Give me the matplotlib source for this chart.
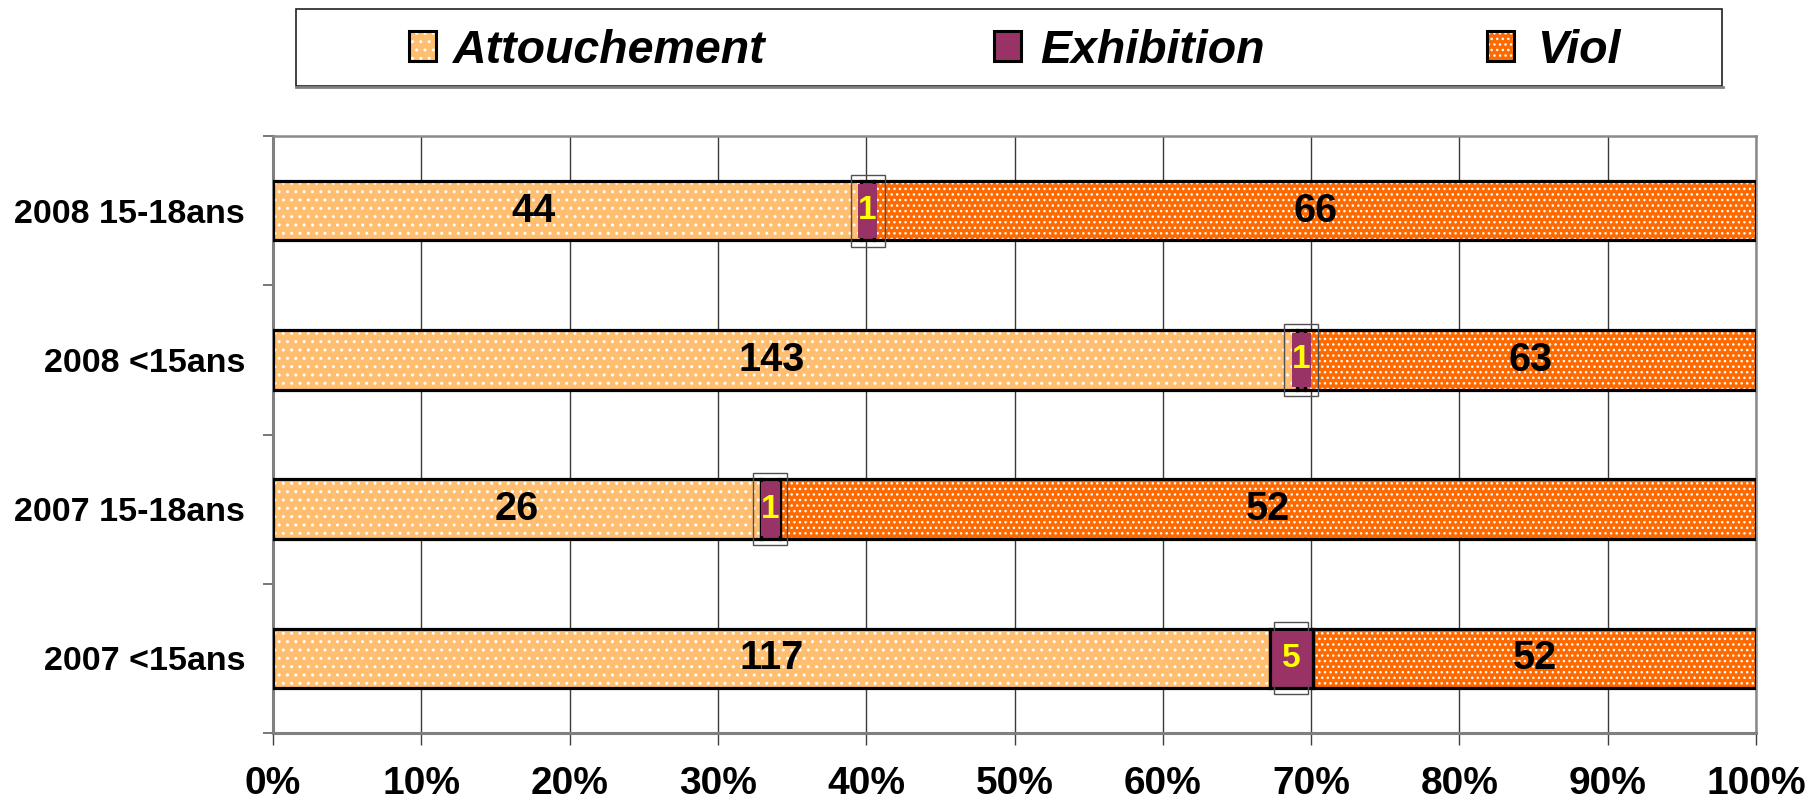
import matplotlib
matplotlib.use("Agg")
import matplotlib.pyplot as plt
from matplotlib.patches import Rectangle
from matplotlib.lines import Line2D
import numpy as np

plt.rcParams['font.family'] = ['Liberation Sans', 'DejaVu Sans']
plt.rcParams['hatch.linewidth'] = 1.0

categories = ["2008 15-18ans", "2008 <15ans", "2007 15-18ans", "2007 <15ans"]
series_names = ["Attouchement", "Exhibition", "Viol"]
attouchement = [44, 143, 26, 117]
exhibition = [1, 1, 1, 5]
viol = [66, 63, 52, 52]
xticks = [0, 10, 20, 30, 40, 50, 60, 70, 80, 90, 100]

colors = ["#FFBE70", "#993366", "#FF6A00"]
hatches = ["..", None, "..."]
label_colors = ["black", "#FFFF00", "black"]

W, H = 1818, 811
fig = plt.figure(figsize=(W / 100, H / 100), dpi=100)
L, R, T, B = 273, 1756, 136, 733
ax = fig.add_axes([L / W, 1 - B / H, (R - L) / W, (B - T) / H])

counts = np.array([attouchement, exhibition, viol], dtype=float)
totals = counts.sum(axis=0)
pct = counts / totals * 100
y = np.arange(len(categories))
bar_h = 0.40

left = np.zeros(len(categories))
for i, name in enumerate(series_names):
    if hatches[i]:
        ax.barh(y, pct[i], left=left, height=bar_h, color=colors[i],
                hatch=hatches[i], edgecolor="white", linewidth=0, zorder=2)
        ax.barh(y, pct[i], left=left, height=bar_h, fill=False,
                edgecolor="black", linewidth=2.3, zorder=3)
    else:
        ax.barh(y, pct[i], left=left, height=bar_h, color=colors[i],
                edgecolor="black", linewidth=2.3, zorder=3)
    left = left + pct[i]

# data labels
px_x = 100.0 / (R - L)          # data units per pixel in x
px_y = 4.0 / (B - T)            # data units per pixel in y
label_shift_px = {(0, 0): -33, (0, 1): -14}   # (series, row): horizontal nudge in pixels
left = np.zeros(len(categories))
for i, name in enumerate(series_names):
    centers = left + pct[i] / 2
    for j in range(len(categories)):
        cx = centers[j] + label_shift_px.get((i, j), 0) * px_x
        if i == 1:
            ow, oh = 34 * px_x, 72 * px_y
            ax.add_patch(Rectangle((cx - ow / 2, y[j] - oh / 2), ow, oh,
                                   fill=False, edgecolor="#505050", linewidth=1.0, zorder=5))
            iw = max(pct[i][j] - 8 * px_x, 19 * px_x)
            ih = 54 * px_y
            ax.add_patch(Rectangle((cx - iw / 2, y[j] - ih / 2), iw, ih,
                                   facecolor=colors[1], edgecolor="none", zorder=5))
            ax.text(cx, y[j], str(int(counts[i][j])), ha="center", va="center",
                    fontsize=24, fontweight="bold", color=label_colors[i], zorder=6)
        else:
            ax.text(cx, y[j], str(int(counts[i][j])), ha="center", va="center",
                    fontsize=28.5, fontweight="bold", color=label_colors[i], zorder=6)
    left = left + pct[i]

ax.set_xlim(0, 100)
ax.set_ylim(3.5, -0.5)
ax.set_xticks(xticks)
ax.set_xticklabels([f"{v}%" for v in xticks], fontsize=28, fontweight="bold")
ax.set_yticks(y)
ax.set_yticklabels(categories, fontsize=24.5, fontweight="bold")
ax.set_yticks(np.arange(-0.5, 4.0, 1.0), minor=True)
ax.tick_params(axis="y", which="major", length=0, pad=20)
ax.tick_params(axis="y", which="minor", length=7, width=1.2, color="#606060", direction="out")
ax.tick_params(axis="x", which="major", length=8.5, width=1.0, color="#404040", direction="out", pad=15)
ax.grid(axis="x", color="#3a3a3a", linewidth=1.0, zorder=0)
ax.set_axisbelow(True)
for s in ["left", "bottom"]:
    ax.spines[s].set_color("#808080")
    ax.spines[s].set_linewidth(2.2)
for s in ["top", "right"]:
    ax.spines[s].set_color("#8a8a8a")
    ax.spines[s].set_linewidth(1.8)

# legend drawn manually
def fx(p):
    return p / W

def fy(p):
    return 1 - p / H

fig.add_artist(Rectangle((fx(296), fy(86)), fx(1722) - fx(296), fy(9) - fy(86),
                         transform=fig.transFigure, fill=True, facecolor="white",
                         edgecolor="#202020", linewidth=1.2))
fig.add_artist(Line2D([fx(296), fx(1723)], [fy(86.5), fy(86.5)], transform=fig.transFigure,
                      color="#808080", linewidth=2.0))
marker_x = [409, 994, 1487]
text_x = [453, 1040, 1537]
for i, name in enumerate(series_names):
    kw = dict(facecolor=colors[i], transform=fig.transFigure)
    if hatches[i]:
        fig.add_artist(Rectangle((fx(marker_x[i]), fy(61)), 27 / W, 30 / H,
                                 hatch=hatches[i], edgecolor="white", linewidth=0, **kw))
        fig.add_artist(Rectangle((fx(marker_x[i]), fy(61)), 27 / W, 30 / H,
                                 fill=False, edgecolor="black", linewidth=2.2,
                                 transform=fig.transFigure))
    else:
        fig.add_artist(Rectangle((fx(marker_x[i]), fy(61)), 27 / W, 30 / H,
                                 edgecolor="black", linewidth=2.2, **kw))
    fig.text(fx(text_x[i]), fy(63), name, ha="left", va="baseline",
             fontsize=33.5, fontweight="bold", fontstyle="italic", color="black")

fig.savefig("out.png", dpi=100)
